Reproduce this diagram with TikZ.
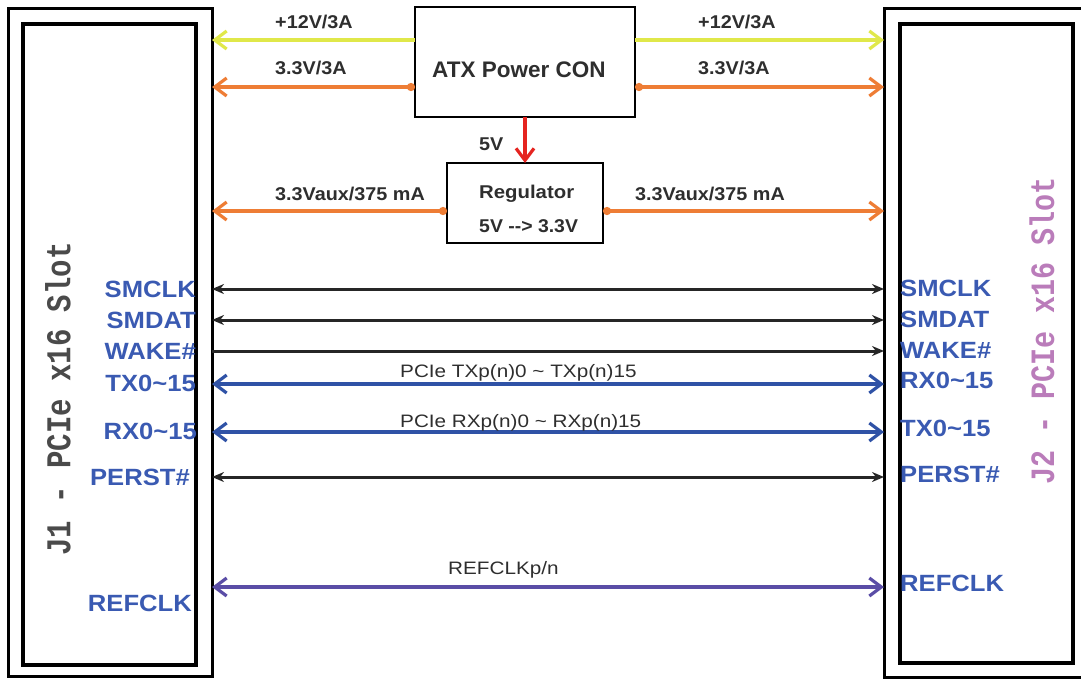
\documentclass[tikz,border=0pt]{standalone}
\usepackage{fontspec}
\setmainfont{Liberation Sans}
\newfontfamily\monofnt{Liberation Mono}
\usetikzlibrary{arrows.meta}
\definecolor{yel}{HTML}{E0E84A}
\definecolor{org}{HTML}{EE7D35}
\definecolor{rd}{HTML}{E52420}
\definecolor{sigblue}{HTML}{2F52A6}
\definecolor{lblblue}{HTML}{3A5AB2}
\definecolor{refpur}{HTML}{5A4DA6}
\definecolor{jtwo}{HTML}{BA7CBA}
\definecolor{jone}{HTML}{4A4A4A}
\definecolor{txt}{HTML}{2E2E2E}
\newcommand{\hs}[2][1.09]{\scalebox{#1}[1]{#2}}
\begin{document}
\begin{tikzpicture}[x=1pt,y=-1pt,
  obox/.style={draw, line width=3pt, inner sep=0pt, outer sep=0pt},
  ibox/.style={draw, line width=3.3pt, inner sep=0pt, outer sep=0pt},
  cbox/.style={draw, line width=2.6pt, inner sep=0pt, outer sep=0pt},
  barb/.tip={Straight Barb[length=12pt,width=18pt,line width=3.2pt]},
  blk/.tip={Stealth[length=12pt,width=10pt]},
  yelarrow/.style={draw=yel, line width=4.5pt, -barb},
  orgarrow/.style={draw=org, line width=4.5pt, {Circle[length=8pt]}-barb},
  redarrow/.style={draw=rd, line width=3.5pt, -barb},
  sigboth/.style={draw=black!85, line width=3pt, blk-blk},
  sigone/.style={draw=black!85, line width=3pt, -blk},
  busarrow/.style={draw=sigblue, line width=4.5pt, barb-barb},
  refarrow/.style={draw=refpur, line width=4.5pt, barb-barb},
  pin/.style={font=\fontsize{23.5}{25}\selectfont\bfseries, text=lblblue, inner sep=0pt},
  pwr/.style={font=\fontsize{18.5}{20}\selectfont\bfseries, text=txt, inner sep=0pt, anchor=base west},
  bus/.style={font=\fontsize{18}{20}\selectfont, text=txt, inner sep=0pt, anchor=base west},
  slot/.style={font=\monofnt\fontsize{29}{30}\selectfont\bfseries, rotate=90, inner sep=0pt}
]
\useasboundingbox (0,0) rectangle (1081,678);
\clip (0,0) rectangle (1081,678);

% slot boxes
\node[obox, minimum width=204pt, minimum height=668pt] (J1o) at (110,342) {};
\node[ibox, minimum width=173pt, minimum height=641pt] (J1i) at (109.5,344.5) {};
\node[obox, minimum width=206pt, minimum height=669pt] (J2o) at (987,342.5) {};
\node[ibox, minimum width=173pt, minimum height=639pt] (J2i) at (986.5,343.5) {};

% power boxes
\node[cbox, minimum width=220pt, minimum height=110pt] (atx) at (525,62) {};
\node[cbox, minimum width=156pt, minimum height=80pt] (reg) at (525,203) {};
\node[font=\fontsize{22.5}{24}\selectfont\bfseries, text=txt, inner sep=0pt, anchor=base west] (atxt) at (432,77) {ATX Power CON};
\node[pwr] (regt1) at (479,198) {\hs[1.1]{Regulator}};
\node[pwr] (regt2) at (479,232) {\hs[1.05]{5V -{}-> 3.3V}};

% power connectors
\draw[yelarrow] (atx.west |- 0,40) -- (J1o.east |- 0,40);
\draw[yelarrow] (atx.east |- 0,40) -- (J2o.west |- 0,40);
\draw[orgarrow] (atx.west |- 0,87) -- (J1o.east |- 0,87);
\draw[orgarrow] (atx.east |- 0,87) -- (J2o.west |- 0,87);
\draw[orgarrow] (reg.west |- 0,211) -- (J1o.east |- 0,211);
\draw[orgarrow] (reg.east |- 0,211) -- (J2o.west |- 0,211);
\draw[redarrow] (atx.south) -- (reg.north);

\node[pwr] (l12a) at (275,28) {\hs[1.07]{+12V/3A}};
\node[pwr] (l12b) at (698,28) {\hs[1.07]{+12V/3A}};
\node[pwr] (l33a) at (275,74) {\hs[1.07]{3.3V/3A}};
\node[pwr] (l33b) at (698,74) {\hs[1.07]{3.3V/3A}};
\node[pwr] (lauxa) at (275,200) {\hs[1.07]{3.3Vaux/375 mA}};
\node[pwr] (lauxb) at (635,200) {\hs[1.07]{3.3Vaux/375 mA}};
\node[pwr] (l5v) at (479,150) {\hs[1.07]{5V}};

% signal connectors
\draw[sigboth] (J1o.east |- 0,289) -- (J2o.west |- 0,289);
\draw[sigboth] (J1o.east |- 0,320) -- (J2o.west |- 0,320);
\draw[sigone] (J1o.east |- 0,351) -- (J2o.west |- 0,351);
\draw[busarrow] (J1o.east |- 0,384) -- (J2o.west |- 0,384);
\draw[busarrow] (J1o.east |- 0,432) -- (J2o.west |- 0,432);
\draw[sigboth] (J1o.east |- 0,477) -- (J2o.west |- 0,477);
\draw[refarrow] (J1o.east |- 0,587) -- (J2o.west |- 0,587);

\node[bus] (txl) at (400,377) {\hs[1.15]{PCIe TXp(n)0 \textasciitilde{} TXp(n)15}};
\node[bus] (rxl) at (400,427) {\hs[1.15]{PCIe RXp(n)0 \textasciitilde{} RXp(n)15}};
\node[bus] (refl) at (448,574) {\hs[1.15]{REFCLKp/n}};

% left pin labels
\node[pin, anchor=base east] (lsmclk) at (196,297.5) {\hs{SMCLK}};
\node[pin, anchor=base east] (lsmdat) at (196,328.5) {\hs{SMDAT}};
\node[pin, anchor=base east] (lwake) at (196,359.5) {\hs{WAKE\#}};
\node[pin, anchor=base east] (ltx) at (196,391.5) {\hs{TX0\textasciitilde{}15}};
\node[pin, anchor=base east] (lrx) at (197,439.5) {\hs{RX0\textasciitilde{}15}};
\node[pin, anchor=base east] (lperst) at (190,485.5) {\hs{PERST\#}};
\node[pin, anchor=base east] (lref) at (192,611.5) {\hs{REFCLK}};

% right pin labels
\node[pin, anchor=base west] (rsmclk) at (900,296.5) {\hs{SMCLK}};
\node[pin, anchor=base west] (rsmdat) at (900,327) {\hs{SMDAT}};
\node[pin, anchor=base west] (rwake) at (900,358.5) {\hs{WAKE\#}};
\node[pin, anchor=base west] (rrx) at (900,388) {\hs{RX0\textasciitilde{}15}};
\node[pin, anchor=base west] (rtx) at (900,436) {\hs{TX0\textasciitilde{}15}};
\node[pin, anchor=base west] (rperst) at (900,482) {\hs{PERST\#}};
\node[pin, anchor=base west] (rref) at (900,591) {\hs{REFCLK}};

% slot titles
\node[slot, text=jone] (j1t) at (58,399) {\scalebox{1}[1.2]{J1 - PCIe x16 Slot}};
\node[slot, text=jtwo, font=\monofnt\fontsize{28.4}{30}\selectfont\bfseries] (j2t) at (1042,331) {\scalebox{1}[1.2]{J2 - PCIe x16 Slot}};
\end{tikzpicture}
\end{document}
